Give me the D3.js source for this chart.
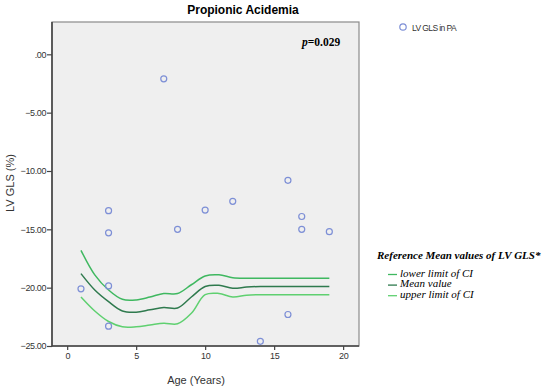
<!DOCTYPE html>
<html>
<head>
<meta charset="utf-8">
<script src="https://cdn.jsdelivr.net/npm/d3@7"></script>
<style>
  body { margin: 0; background: #fff; }
  svg text { font-family: "Liberation Sans", Arial, sans-serif; }
  .serif { font-family: "Liberation Serif", "Times New Roman", serif !important; }
</style>
</head>
<body>
<div id="chart"></div>
<script>
// scatter points: age (years) and LV GLS (%)
const ptAge = [7, 16, 3, 3, 8, 10, 12, 17, 17, 19, 1, 3, 3, 16, 14];
const ptGls = [-2.1, -10.8, -13.4, -15.3, -15.0, -13.35, -12.6, -13.9, -15.0, -15.2, -20.1, -19.85, -23.3, -22.3, -24.6];

// reference curves, one value per year of age
const refAge = [1, 2, 3, 4, 5, 6, 7, 8, 9, 10, 11, 12, 13, 14, 15, 16, 17, 18, 19];
const lowerCI = [-16.8, -18.9, -20.2, -21.0, -21.05, -20.8, -20.5, -20.5, -19.75, -19.0, -18.9, -19.15, -19.2, -19.2, -19.2, -19.2, -19.2, -19.2, -19.2];
const meanVal = [-18.8, -20.2, -21.2, -22.0, -22.1, -21.9, -21.7, -21.75, -20.8, -19.9, -19.8, -20.05, -19.95, -19.9, -19.9, -19.9, -19.9, -19.9, -19.9];
const upperCI = [-20.8, -22.0, -22.9, -23.35, -23.35, -23.2, -23.05, -23.1, -22.2, -20.6, -20.5, -20.8, -20.65, -20.6, -20.6, -20.6, -20.6, -20.6, -20.6];

const xTicks = [0, 5, 10, 15, 20];
const yTicks = [0, -5, -10, -15, -20, -25];

const refNames = ["lower limit of CI", "Mean value", "upper limit of CI"];
const refColors = ["#3fb860", "#2f7a4e", "#5fd070"];

const width = 550, height = 390;
const plot = { left: 52, right: 359, top: 22, bottom: 346 };

const svg = d3.select("#chart").append("svg")
  .attr("width", width).attr("height", height);

const x = d3.scaleLinear().domain([-1.1, 21.15]).range([plot.left, plot.right]);
const y = d3.scaleLinear().domain([-25, 2.77]).range([plot.bottom, plot.top]);

// plot background and frame
svg.append("rect")
  .attr("x", plot.left).attr("y", plot.top)
  .attr("width", plot.right - plot.left).attr("height", plot.bottom - plot.top)
  .attr("fill", "#efefef").attr("stroke", "#8a8a8a").attr("stroke-width", 1.2);

// axes
const fmt = d => d3.format(".2f")(d).replace(/^0/, "").replace(/^-0\./, "-.");
const yAxis = svg.append("g")
  .attr("transform", `translate(${plot.left},0)`)
  .call(d3.axisLeft(y).tickValues(yTicks).tickFormat(fmt).tickSize(5).tickPadding(1));
const xAxis = svg.append("g")
  .attr("transform", `translate(0,${plot.bottom})`)
  .call(d3.axisBottom(x).tickValues(xTicks).tickSize(4).tickPadding(3));

[yAxis, xAxis].forEach(g => {
  g.select(".domain").remove();
  g.selectAll(".tick line").attr("stroke", "#444").attr("stroke-width", 1.2);
  g.selectAll(".tick text").attr("fill", "#333").style("font-size", "9px").style("letter-spacing", "-0.4px");
});
svg.append("line")
  .attr("x1", plot.left).attr("x2", plot.left)
  .attr("y1", plot.top).attr("y2", plot.bottom + 0.6)
  .attr("stroke", "#444").attr("stroke-width", 1.6);
svg.append("line")
  .attr("x1", plot.left).attr("x2", plot.right)
  .attr("y1", plot.bottom).attr("y2", plot.bottom)
  .attr("stroke", "#444").attr("stroke-width", 1.6);

// reference curves
const line = d3.line()
  .x((d, i) => x(refAge[i]))
  .y(d => y(d))
  .curve(d3.curveCatmullRom.alpha(0.5));

[lowerCI, meanVal, upperCI].forEach((s, k) => {
  svg.append("path")
    .attr("d", line(s))
    .attr("fill", "none")
    .attr("stroke", refColors[k])
    .attr("stroke-width", 1.5);
});

// scatter points
svg.selectAll(".pt")
  .data(ptAge.map((a, i) => ({ a, v: ptGls[i] })))
  .enter().append("circle")
  .attr("class", "pt")
  .attr("cx", d => x(d.a))
  .attr("cy", d => y(d.v))
  .attr("r", 3)
  .attr("fill", "none")
  .attr("stroke", "#7d8fd6")
  .attr("stroke-width", 1.2);

// titles
svg.append("text")
  .attr("x", 243).attr("y", 14)
  .attr("text-anchor", "middle")
  .style("font-size", "12px").style("font-weight", "bold")
  .text("Propionic Acidemia");

svg.append("text")
  .attr("x", 196).attr("y", 384)
  .attr("text-anchor", "middle")
  .attr("fill", "#333")
  .style("font-size", "11px")
  .text("Age (Years)");

svg.append("text")
  .attr("transform", "translate(14,183) rotate(-90)")
  .attr("text-anchor", "middle")
  .attr("fill", "#333")
  .style("font-size", "11px")
  .text("LV GLS (%)");

const pText = svg.append("text")
  .attr("class", "serif")
  .attr("x", 302).attr("y", 46)
  .style("font-size", "11.5px").style("font-weight", "bold");
pText.append("tspan").style("font-style", "italic").text("p");
pText.append("tspan").text("=0.029");

// point legend
svg.append("circle")
  .attr("cx", 403).attr("cy", 27).attr("r", 3.2)
  .attr("fill", "none").attr("stroke", "#7d8fd6").attr("stroke-width", 1.2);
svg.append("text")
  .attr("x", 412).attr("y", 30.5)
  .attr("fill", "#333")
  .style("font-size", "8.5px").style("letter-spacing", "-0.6px")
  .text("LV GLS in PA");

// reference legend
svg.append("text")
  .attr("class", "serif")
  .attr("x", 377).attr("y", 259)
  .style("font-size", "11px").style("font-weight", "bold").style("font-style", "italic")
  .text("Reference Mean values of LV GLS*");

refNames.forEach((name, k) => {
  const yy = 276.5 + k * 10.6;
  svg.append("line")
    .attr("x1", 388).attr("x2", 397)
    .attr("y1", yy - 2).attr("y2", yy - 2)
    .attr("stroke", refColors[k]).attr("stroke-width", 1.3);
  svg.append("text")
    .attr("class", "serif")
    .attr("x", 400).attr("y", yy)
    .style("font-size", "11px").style("font-style", "italic")
    .text(name);
});
</script>
</body>
</html>
